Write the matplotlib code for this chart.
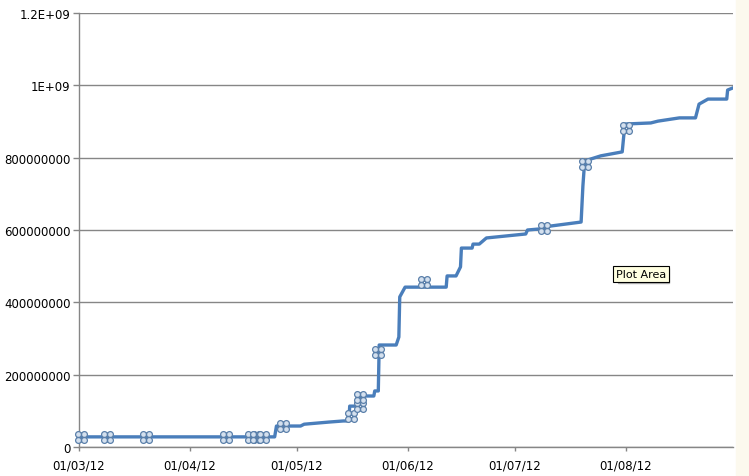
import matplotlib
matplotlib.use('Agg')
import matplotlib.pyplot as plt
import matplotlib.dates as mdates
from matplotlib.path import Path
from matplotlib.patches import Rectangle
import pandas as pd

# cumulative series (values in millions)
line_dates = [
    '2012-03-01 00:00', '2012-04-24 18:00', '2012-04-25 06:00', '2012-05-02 00:00',
    '2012-05-03 00:00', '2012-05-10 00:00', '2012-05-14 00:00', '2012-05-15 12:00',
    '2012-05-15 18:00', '2012-05-18 06:00', '2012-05-18 12:00', '2012-05-22 12:00',
    '2012-05-22 18:00', '2012-05-23 18:00', '2012-05-24 00:00', '2012-05-28 18:00',
    '2012-05-29 12:00', '2012-05-29 18:00', '2012-05-31 06:00', '2012-06-11 18:00',
    '2012-06-12 00:00', '2012-06-14 12:00', '2012-06-15 18:00', '2012-06-16 00:00',
    '2012-06-19 00:00', '2012-06-19 06:00', '2012-06-21 00:00', '2012-06-23 00:00',
    '2012-07-04 00:00', '2012-07-04 12:00', '2012-07-08 00:00', '2012-07-11 00:00',
    '2012-07-19 12:00', '2012-07-20 00:00', '2012-07-20 12:00', '2012-07-25 00:00',
    '2012-07-31 00:00', '2012-07-31 18:00', '2012-08-08 00:00', '2012-08-10 00:00',
    '2012-08-16 00:00', '2012-08-20 12:00', '2012-08-21 12:00', '2012-08-24 00:00',
    '2012-08-29 06:00', '2012-08-29 12:00', '2012-08-31 00:00',
]
line_values = [
    28, 28, 58, 58,
    63, 69, 72, 72,
    113, 113, 141, 141,
    155, 155, 282, 282,
    304, 415, 442, 442,
    473, 473, 498, 550,
    550, 561, 561, 578,
    589, 600, 603, 611,
    622, 722, 791, 805,
    816, 893, 896, 901,
    910, 910, 948, 962,
    962, 987, 993,
]

# marked points
mark_dates = [
    '2012-03-01 12:00', '2012-03-08 18:00', '2012-03-19 18:00', '2012-04-11 00:00',
    '2012-04-18 00:00', '2012-04-19 12:00', '2012-04-21 12:00', '2012-04-27 00:00',
    '2012-05-16 00:00', '2012-05-18 12:00', '2012-05-18 12:00', '2012-05-23 18:00',
    '2012-06-05 12:00', '2012-07-09 00:00', '2012-07-20 12:00', '2012-08-01 00:00',
]
mark_values = [
    28, 28, 28, 28,
    28, 28, 28, 58,
    86, 113, 138, 263,
    456, 605, 782, 882,
]

month_ticks = ['2012-03-01', '2012-04-01', '2012-05-01', '2012-06-01', '2012-07-01', '2012-08-01']
y_ticks = [0, 200e6, 400e6, 600e6, 800e6, 1000e6, 1200e6]
y_labels = ['0', '200000000', '400000000', '600000000', '800000000', '1E+09', '1.2E+09']

# four small circles, like the selection handles
circ = Path.unit_circle()
parts = [Path(circ.vertices * 0.5 + [dx, dy], circ.codes)
         for dx, dy in [(-0.5, -0.5), (0.5, -0.5), (-0.5, 0.5), (0.5, 0.5)]]
handle = Path.make_compound_path(*parts)

fig = plt.figure(figsize=(7.49, 4.77), dpi=100)
fig.patch.set_facecolor('white')
fig.patches.append(Rectangle((0.983, 0), 0.017, 1, transform=fig.transFigure,
                             color='#fcf9ee', zorder=-1))
ax = fig.add_axes([79 / 749, 1 - 448 / 477, 654 / 749, 434 / 477])

x = pd.to_datetime(line_dates)
y = [v * 1e6 for v in line_values]
ax.plot(x, y, color='#4a7ebb', lw=2.4, zorder=3)

mx = pd.to_datetime(mark_dates)
my = [v * 1e6 for v in mark_values]
ax.plot(mx, my, ls='none', marker=handle, ms=8.5, mfc='#d4e0ee', mec='#5b80aa',
        mew=0.9, zorder=4, clip_on=False)

ax.set_ylim(0, 1.2e9)
ax.set_xlim(pd.Timestamp('2012-03-01'), pd.Timestamp('2012-08-31'))
ax.set_yticks(y_ticks)
ax.set_yticklabels(y_labels)
ax.set_xticks(pd.to_datetime(month_ticks))
ax.xaxis.set_major_formatter(mdates.DateFormatter('%d/%m/%y'))

ax.grid(axis='y', color='#868686', lw=1.0)
ax.set_axisbelow(True)
for s in ['top', 'right']:
    ax.spines[s].set_visible(False)
for s in ['left', 'bottom']:
    ax.spines[s].set_color('#868686')
    ax.spines[s].set_linewidth(1.0)
ax.tick_params(axis='y', length=4, width=1, color='#868686', pad=2, labelsize=8.5)
ax.tick_params(axis='x', length=3, width=1, color='#868686', pad=5, labelsize=8.5)

# tooltip
fig.patches.append(Rectangle((618 / 749, 1 - 284 / 477), 51 / 749, 15 / 477,
                             transform=fig.transFigure, color='#b0b0b0', zorder=5))
fig.text(641 / 749, 1 - 275 / 477, 'Plot Area', ha='center', va='center', fontsize=8,
         zorder=6, bbox=dict(boxstyle='square,pad=0.25', fc='#ffffe1', ec='black', lw=0.8))

plt.savefig('out.png', dpi=100)
